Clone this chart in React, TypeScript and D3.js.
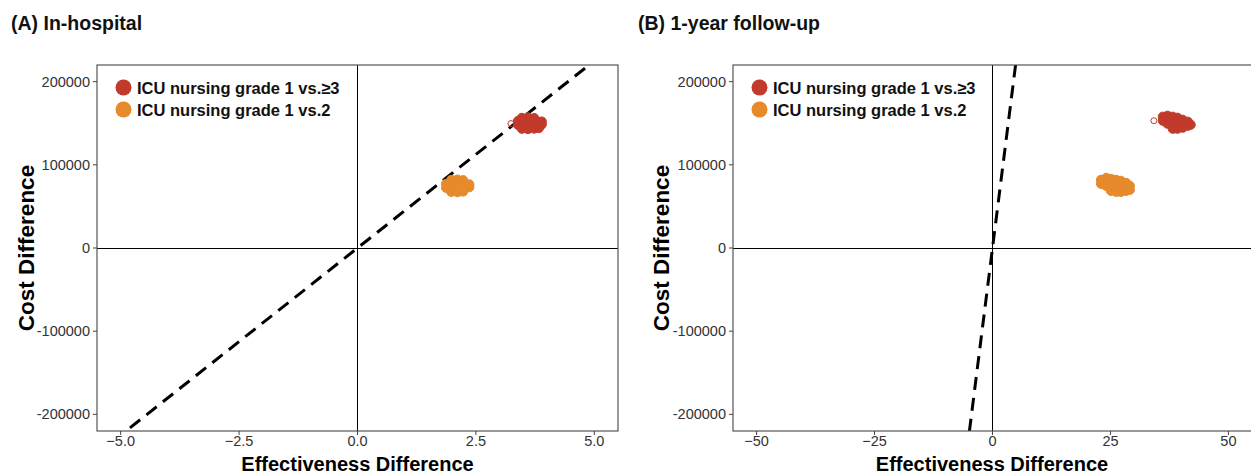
import React from "react";
import * as d3 from "d3";

// series labels / colours
const seriesNames = ["ICU nursing grade 1 vs.\u22653", "ICU nursing grade 1 vs.2"];
const seriesColors = ["#C13A2B", "#E68A2C"];

// willingness-to-pay threshold (slope of dashed line)
const wtp = 45000;

// y axis ticks (shared)
const yTicks = [-200000, -100000, 0, 100000, 200000];

// (A) in-hospital: [effectiveness diff, cost diff]
const inHospitalHigh: [number, number][] = [
  [3.24, 149600],
  [3.47, 156400], [3.6, 157000], [3.73, 156200],
  [3.39, 152800], [3.52, 153200], [3.64, 152600], [3.77, 153000], [3.89, 152000],
  [3.39, 148000], [3.52, 148400], [3.64, 147800], [3.77, 148200], [3.89, 148600],
  [3.47, 143400], [3.6, 143000], [3.73, 143600], [3.83, 144200],
];
const inHospitalMid: [number, number][] = [
  [1.98, 81900], [2.11, 82300], [2.23, 81500],
  [1.87, 77100], [2.0, 77500], [2.13, 76900], [2.25, 77300], [2.36, 76500],
  [1.87, 72300], [2.0, 72700], [2.13, 71900], [2.25, 72500], [2.36, 73100],
  [1.98, 67500], [2.11, 67100], [2.23, 67900],
];

// (B) 1-year follow-up
const followUpHigh: [number, number][] = [
  [34.2, 153000],
  [36.1, 157800], [36.1, 153000],
  [37.1, 159000], [37.1, 154200], [37.1, 149400],
  [38.2, 157800], [38.2, 153000], [38.2, 148200], [38.2, 143400],
  [39.2, 156600], [39.2, 151800], [39.2, 147000], [39.2, 143400],
  [40.3, 154200], [40.3, 149400], [40.3, 144600],
  [41.4, 151800], [41.4, 147000],
  [42.0, 148200],
];
const followUpMid: [number, number][] = [
  [23.0, 81900], [23.0, 77100],
  [24.1, 84300], [24.1, 79500], [24.1, 74700],
  [25.1, 83100], [25.1, 78300], [25.1, 73500], [25.1, 68700],
  [26.2, 81900], [26.2, 77100], [26.2, 72300], [26.2, 67500],
  [27.2, 80700], [27.2, 75900], [27.2, 71100], [27.2, 67500],
  [28.3, 78300], [28.3, 73500], [28.3, 68700],
  [29.1, 74700], [29.1, 69900],
];

const xTicksA = [-5, -2.5, 0, 2.5, 5];
const xTicksB = [-50, -25, 0, 25, 50];

const font = "'Liberation Sans', Arial, sans-serif";
const top = 65;
const bottom = 431;

type PanelProps = {
  id: string;
  title: string;
  titleX: number;
  left: number;
  right: number;
  xDomain: [number, number];
  xTicks: number[];
  xFormat: (v: number) => string;
  yTitleX: number;
  series: [number, number][][];
};

const Panel = ({ id, title, titleX, left, right, xDomain, xTicks, xFormat, yTitleX, series }: PanelProps) => {
  const x = d3.scaleLinear().domain(xDomain).range([left, right]);
  const y = d3.scaleLinear().domain([-220000, 220000]).range([bottom, top]);
  const line = d3
    .line<number>()
    .x((d) => x(d))
    .y((d) => y(d * wtp));
  const y0 = Math.round(y(0)) + 0.5;

  return (
    <g>
      <text x={titleX} y={30} fontFamily={font} fontWeight="bold" fontSize={19.5} fill="#111">
        {title}
      </text>
      <defs>
        <clipPath id={id}>
          <rect x={left} y={top} width={right - left} height={bottom - top} />
        </clipPath>
      </defs>

      <g clipPath={`url(#${id})`}>
        <line x1={x(0)} x2={x(0)} y1={top} y2={bottom} stroke="#000" strokeWidth={1} />
        <line x1={left} x2={right} y1={y0} y2={y0} stroke="#000" strokeWidth={1} />
        <path d={line(xDomain) || ""} stroke="#000" strokeWidth={3} strokeDasharray="13 8" fill="none" />
        {series.map((pts, i) =>
          pts.map((p, j) => (
            <circle
              key={`${i}-${j}`}
              cx={x(p[0])}
              cy={y(p[1])}
              r={j === 0 && i === 0 ? 3 : 4.6}
              fill={j === 0 && i === 0 ? "none" : seriesColors[i]}
              stroke={seriesColors[i]}
              strokeWidth={1}
            />
          ))
        )}
      </g>
      <rect x={left} y={top} width={right - left} height={bottom - top} fill="none" stroke="#555" strokeWidth={1.2} />

      {/* y axis */}
      {yTicks.map((t) => (
        <g key={t}>
          <line x1={left - 4} x2={left} y1={y(t)} y2={y(t)} stroke="#444" />
          <text x={left - 7} y={y(t)} dy="0.35em" textAnchor="end" fontFamily={font} fontSize={14.5} fill="#333">
            {t}
          </text>
        </g>
      ))}
      {/* x axis */}
      {xTicks.map((t) => (
        <g key={t}>
          <line x1={x(t)} x2={x(t)} y1={bottom} y2={bottom + 4} stroke="#444" />
          <text x={x(t)} y={446} textAnchor="middle" fontFamily={font} fontSize={14.5} fill="#333">
            {xFormat(t)}
          </text>
        </g>
      ))}

      <text x={(left + Math.min(right, 1251)) / 2} y={471} textAnchor="middle" fontFamily={font} fontWeight="bold" fontSize={20} fill="#000">
        Effectiveness Difference
      </text>
      <text
        transform={`translate(${yTitleX},${(top + bottom) / 2}) rotate(-90)`}
        textAnchor="middle"
        fontFamily={font}
        fontWeight="bold"
        fontSize={22.5}
        fill="#000"
      >
        Cost Difference
      </text>

      {/* legend */}
      {seriesNames.map((name, i) => (
        <g key={name}>
          <circle cx={left + 26.5} cy={87.5 + i * 22} r={8} fill={seriesColors[i]} />
          <text x={left + 40} y={94 + i * 22} fontFamily={font} fontWeight="bold" fontSize={16.5} fill="#111">
            {name}
          </text>
        </g>
      ))}
    </g>
  );
};

export default function App() {
  return (
    <svg width={1251} height={476} style={{ position: "absolute", left: 0, top: 0, background: "#fff" }}>
      <rect width={1251} height={476} fill="#fff" />
      <Panel
        id="clipA"
        title="(A) In-hospital"
        titleX={11}
        left={97}
        right={618}
        xDomain={[-5.5, 5.5]}
        xTicks={xTicksA}
        xFormat={d3.format(".1f")}
        yTitleX={34}
        series={[inHospitalHigh, inHospitalMid]}
      />
      <Panel
        id="clipB"
        title="(B) 1-year follow-up"
        titleX={638}
        left={733}
        right={1252}
        xDomain={[-55, 55]}
        xTicks={xTicksB}
        xFormat={d3.format("d")}
        yTitleX={669}
        series={[followUpHigh, followUpMid]}
      />
    </svg>
  );
}
